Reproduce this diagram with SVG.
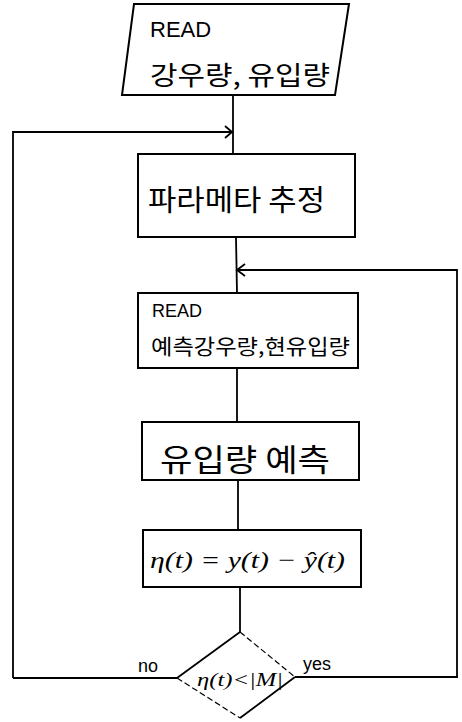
<svg xmlns="http://www.w3.org/2000/svg" width="462" height="722" viewBox="0 0 462 722">
<style>
.box{fill:none;stroke:#000;stroke-width:2}
.ln{fill:none;stroke:#000;stroke-width:1.8}
.dl{fill:none;stroke:#000;stroke-width:1.2;stroke-dasharray:6 3}
.ko{font-family:"Noto Sans CJK KR","Noto Sans",sans-serif;fill:#000}
.lat{font-family:"Liberation Sans",sans-serif;fill:#000}
.mth{font-family:"Liberation Serif",serif;font-style:italic;fill:#000}
</style>
<rect width="462" height="722" fill="#fff"/>
<g id="connectors">
<line class="ln" x1="233" y1="95" x2="233" y2="154"/>
<polyline class="ln" points="13,678 13,132 232,132"/>
<polyline class="ln" points="225,126 232,132 225,138"/>
<line class="ln" x1="236" y1="237" x2="237" y2="293"/>
<polyline class="ln" points="457,677 457,270 237,270"/>
<polyline class="ln" points="245,264 237,270 245,276"/>
<line class="ln" x1="237" y1="368" x2="237" y2="422"/>
<line class="ln" x1="238" y1="480" x2="238" y2="530"/>
<line class="ln" x1="240" y1="587" x2="240" y2="632"/>
<line class="ln" x1="13" y1="678" x2="177" y2="678"/>
<line class="ln" x1="295" y1="677" x2="458" y2="677"/>
<text class="lat" x="138" y="672" font-size="18">no</text>
<text class="lat" x="303" y="670" font-size="18">yes</text>
</g>
<g id="read1">
<polygon class="box" points="134,4 349,4 335,95 122,95"/>
<text class="lat" x="150" y="37" font-size="22">READ</text>
<text class="ko" x="150" y="85" font-size="26" textLength="180" lengthAdjust="spacingAndGlyphs">강우량, 유입량</text>
</g>
<g id="param">
<rect class="box" x="138" y="154" width="217" height="83"/>
<text class="ko" x="148" y="211" font-size="29" textLength="177" lengthAdjust="spacingAndGlyphs">파라메타 추정</text>
</g>
<g id="read2">
<rect class="box" x="138" y="293" width="220" height="75"/>
<text class="lat" x="152" y="317" font-size="18">READ</text>
<text class="ko" x="151" y="354" font-size="21" textLength="199" lengthAdjust="spacingAndGlyphs">예측강우량,현유입량</text>
</g>
<g id="predict">
<rect class="box" x="142" y="422" width="217" height="58"/>
<text class="ko" x="160" y="471" font-size="31" textLength="170" lengthAdjust="spacingAndGlyphs">유입량 예측</text>
</g>
<g id="error">
<rect class="box" x="143" y="530" width="218" height="57"/>
<text class="mth" x="150" y="568" font-size="24" textLength="195" lengthAdjust="spacingAndGlyphs">η(t) = y(t) − ŷ(t)</text>
</g>
<g id="decision">
<line class="ln" x1="240" y1="632" x2="177" y2="678"/>
<line class="ln" x1="295" y1="677" x2="240" y2="718"/>
<line class="dl" x1="240" y1="632" x2="295" y2="677"/>
<line class="dl" x1="177" y1="678" x2="240" y2="718"/>
<text class="mth" x="197" y="686" font-size="18" textLength="86" lengthAdjust="spacingAndGlyphs">η(t)&lt;|M|</text>
</g>
</svg>
